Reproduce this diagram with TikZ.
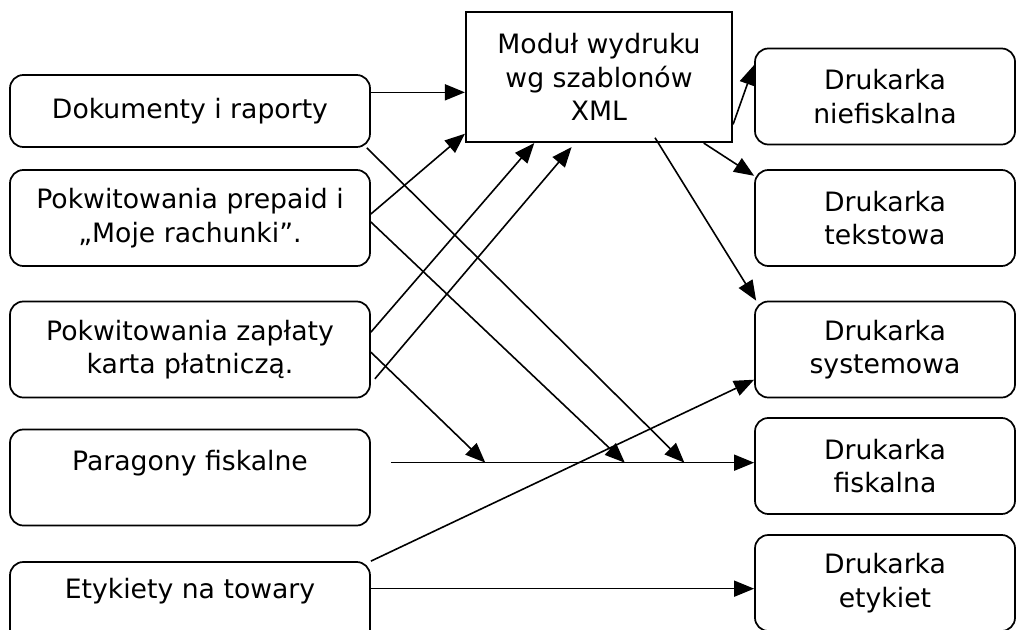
\documentclass[tikz,border=0pt]{standalone}
\usepackage{fontspec}
\setmainfont{DejaVu Sans}
\usetikzlibrary{arrows.meta,calc}

\begin{document}
\begin{tikzpicture}[x=0.75pt,y=-0.75pt,
  font=\fontsize{20}{25}\selectfont,
  zrodlo/.style={draw, line width=1.3pt, rounded corners=10pt, align=center,
                 inner sep=0pt, minimum width=270pt, minimum height=72pt},
  drukarka/.style={zrodlo, minimum width=195pt},
  strz/.style={-{Triangle[length=15pt,width=12pt]}, line width=1.2pt}]

\useasboundingbox (0,0) rectangle (1016,629);

% zrodla wydrukow
\node[zrodlo, minimum height=54pt] (dok) at (190,111) {Dokumenty i raporty};
\node[zrodlo] (prep) at (190,218) {Pokwitowania prepaid i\\„Moje rachunki”.};
\node[zrodlo] (karta) at (190,349.5) {Pokwitowania zapłaty\\karta płatniczą.};
\node[zrodlo] (par) at (190,477.5) {Paragony fiskalne\\\mbox{}};
\node[zrodlo] (ety) at (190,610) {Etykiety na towary\\\strut};

% modul
\node[draw, line width=1.6pt, align=center, inner sep=0pt,
      minimum width=199.5pt, minimum height=97.5pt] (mod) at (599,77)
      {Moduł wydruku\\wg szablonów\\XML};

% drukarki
\node[drukarka] (nief) at (885,96.5) {Drukarka\\niefiskalna};
\node[drukarka] (tekst) at (885,218) {Drukarka\\tekstowa};
\node[drukarka] (sys) at (885,349.5) {Drukarka\\systemowa};
\node[drukarka] (fisk) at (885,466) {Drukarka\\fiskalna};
\node[drukarka] (etyk) at (885,583) {Drukarka\\etykiet};

% linia paragonow i punkty trafien
\coordinate (fiskIn) at ([yshift=2.5pt]fisk.west);
\coordinate (parStart) at ([xshift=15pt]par.east |- fiskIn);
\coordinate (hitK) at ($(parStart)!0.26!(fiskIn)$);
\coordinate (hitP) at ($(parStart)!0.644!(fiskIn)$);
\coordinate (hitD) at ($(parStart)!0.808!(fiskIn)$);

\draw[strz] (parStart) -- (fiskIn);

% do modulu
\draw[strz] ([yshift=14pt]dok.east) -- ([yshift=14pt]dok.east -| mod.west);
\draw[strz] ([yshift=3pt]prep.east) -- ([yshift=7pt]mod.south west);
\draw[strz] ([yshift=13pt]karta.east) -- ([xshift=52pt]mod.south west);
\draw[strz] ([xshift=3pt,yshift=-22pt]karta.east) -- ([xshift=80pt,yshift=-3pt]mod.south west);

% na skos do drukarki fiskalnej
\draw[strz] ([xshift=-3pt]dok.south east) -- (hitD);
\draw[strz] ([yshift=-3pt]prep.east) -- (hitP);
\draw[strz] ([yshift=-2pt]karta.east) -- (hitK);

% etykiety
\draw[strz] (ety.north east) -- ([yshift=14pt]sys.south west);
\draw[strz] ([yshift=16pt]ety.east) -- ([yshift=16pt]ety.east -| etyk.west);

% z modulu do drukarek
\draw[strz] ([yshift=14pt]mod.south east) -- ([yshift=-13pt]nief.north west);
\draw[strz] ([xshift=-22pt]mod.south east) -- ([yshift=-5pt]tekst.north west);
\draw[strz] ([xshift=42pt,yshift=4pt]mod.south) -- ([xshift=1.5pt]sys.north west);

\end{tikzpicture}
\end{document}
